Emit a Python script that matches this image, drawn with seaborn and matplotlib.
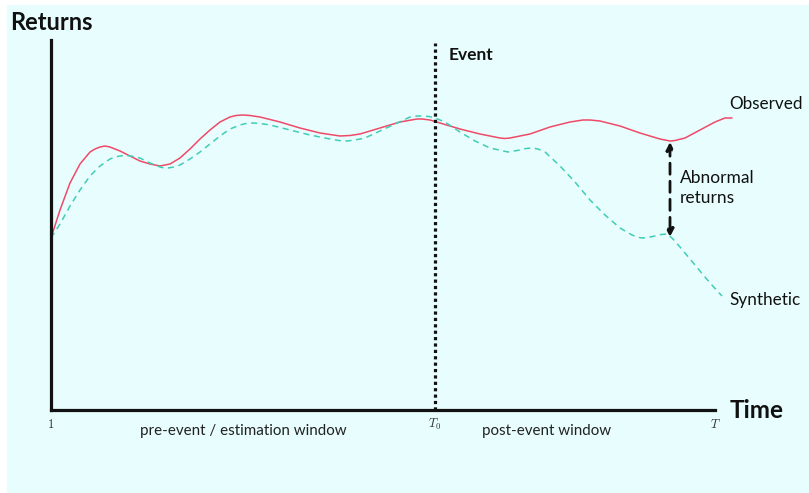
import matplotlib
matplotlib.use("Agg")
import matplotlib.pyplot as plt
import matplotlib.patches as mpatches
import numpy as np
import seaborn as sns

sns.set_style("white")
plt.rcParams["font.family"] = ["Lato", "DejaVu Sans"]
plt.rcParams["mathtext.fontset"] = "cm"

BG = "#E8FDFD"
RED = "#EF4A68"
TEAL = "#3FCDB6"
INK = "#111111"

# time steps (1 .. T) and the event date
T_START, T0, T_END = 1, 385, 665

obs_t = [1, 10, 20, 30, 40, 45, 50, 55, 60, 65, 70, 80, 90, 100, 110, 120, 130,
         140, 150, 160, 170, 180, 186, 193, 200, 210, 230, 250, 270, 290, 300,
         310, 330, 350, 367, 372, 380, 390, 410, 430, 450, 455, 460, 480, 500,
         520, 533, 540, 550, 570, 590, 610, 615, 620, 625, 635, 650, 665, 675,
         682]
obs_r = [17.2, 20.0, 22.7, 24.6, 25.8, 26.1, 26.3, 26.4, 26.3, 26.1, 25.9, 25.4,
         24.9, 24.6, 24.4, 24.6, 25.2, 26.1, 27.1, 28.0, 28.8, 29.3, 29.45, 29.5,
         29.45, 29.3, 28.8, 28.2, 27.7, 27.4, 27.45, 27.6, 28.2, 28.8, 29.1, 29.1,
         29.0, 28.7, 28.1, 27.6, 27.2, 27.15, 27.2, 27.6, 28.3, 28.8, 29.0, 29.0,
         28.9, 28.4, 27.7, 27.1, 27.0, 26.9, 26.95, 27.2, 28.0, 28.8, 29.2, 29.2]

syn_t = [1, 10, 20, 30, 40, 50, 60, 65, 70, 74, 77, 84, 90, 100, 110, 114, 118,
         124, 130, 140, 150, 160, 170, 180, 190, 196, 203, 210, 220, 240, 260,
         280, 289, 297, 305, 315, 330, 345, 360, 367, 373, 379, 385, 395, 410,
         425, 440, 458, 464, 470, 476, 482, 488, 495, 510, 525, 540, 555, 570,
         582, 587, 592, 598, 605, 611, 617, 622, 630, 645, 660, 672]
syn_r = [17.2, 18.6, 20.4, 22.0, 23.4, 24.4, 25.1, 25.3, 25.4, 25.45, 25.45,
         25.35, 25.2, 24.7, 24.3, 24.2, 24.2, 24.3, 24.5, 25.1, 25.8, 26.6, 27.4,
         28.1, 28.5, 28.65, 28.7, 28.65, 28.5, 28.0, 27.5, 27.1, 26.95, 26.9,
         27.0, 27.2, 27.9, 28.6, 29.3, 29.4, 29.4, 29.35, 29.2, 28.8, 27.8, 26.9,
         26.2, 25.8, 25.9, 26.0, 26.15, 26.2, 26.1, 25.8, 24.4, 22.8, 21.0, 19.5,
         18.2, 17.5, 17.3, 17.2, 17.25, 17.4, 17.55, 17.6, 17.2, 16.3, 14.5,
         12.7, 11.4]

# abnormal-return arrow drawn at this time step
AR_T = 620

fig = plt.figure(figsize=(8.09, 4.93), dpi=100)
fig.patch.set_facecolor("white")
fig.add_artist(mpatches.Rectangle((7 / 809, 0), 1, (493 - 5) / 493,
                                  transform=fig.transFigure, color=BG, zorder=-10))

ax = fig.add_axes([51 / 809, 83 / 493, 681 / 809, 370 / 493])
ax.set_facecolor("none")

sns.lineplot(x=obs_t, y=obs_r, ax=ax, color=RED, lw=1.1, clip_on=False,
             solid_joinstyle="round")
sns.lineplot(x=syn_t, y=syn_r, ax=ax, color=TEAL, lw=1.1, clip_on=False,
             dashes=False, linestyle=(0, (4, 3)), dash_joinstyle="round")

ax.set_xlim(T_START, 682)
ax.set_ylim(0, 37)

# event line
ax.axvline(T0, ymin=0, ymax=0.992, color=INK, lw=2.3, linestyle=(0, (1, 1)))
ax.text(T0 + 14, 35.5, "Event", fontsize=12.5, fontweight="bold", color=INK,
        va="center", ha="left")

# abnormal returns arrow
obs_at = obs_r[obs_t.index(AR_T)]
syn_at = syn_r[syn_t.index(617)]
ax.annotate("", xy=(AR_T, syn_at - 0.3), xytext=(AR_T, obs_at - 0.1),
            arrowprops=dict(arrowstyle="<|-|>", color=INK, lw=2,
                            linestyle=(0, (4, 2.5)), mutation_scale=11,
                            shrinkA=0, shrinkB=0))
ax.text(AR_T + 10, 22.2, "Abnormal\nreturns", fontsize=12.5, color=INK,
        va="center", ha="left", linespacing=1.35)

ax.text(679, 30.6, "Observed", fontsize=12.3, color=INK, va="center", ha="left")
ax.text(679, 11.0, "Synthetic", fontsize=12.3, color=INK, va="center", ha="left")

# axes
for side in ["top", "right"]:
    ax.spines[side].set_visible(False)
for side in ["left", "bottom"]:
    ax.spines[side].set_linewidth(2.3)
    ax.spines[side].set_color(INK)
ax.spines["bottom"].set_bounds(T_START, T_END)
ax.spines["left"].set_bounds(0, 37)
ax.set_yticks([])
ax.set_xticks([T_START, T0, T_END])
ax.set_xticklabels(["$1$", "$T_0$", "$T$"], fontsize=9, color="#333333")
ax.tick_params(axis="x", length=0, pad=5)
ax.set_xlabel("")
ax.set_ylabel("")

xt = ax.get_xaxis_transform()
ax.text((T_START + T0) / 2, -0.057, "pre-event / estimation window",
        transform=xt, ha="center", va="center", fontsize=10.9, color="#222222")
ax.text(497, -0.057, "post-event window",
        transform=xt, ha="center", va="center", fontsize=10.9, color="#222222")
ax.text(680, 0.0, "Time", transform=xt, ha="left", va="center",
        fontsize=17.5, fontweight="bold", color=INK)

fig.text(10 / 809, 1 - 22 / 493, "Returns", ha="left", va="center",
         fontsize=17, fontweight="bold", color=INK)

fig.savefig("out.png", dpi=100, facecolor=fig.get_facecolor())
